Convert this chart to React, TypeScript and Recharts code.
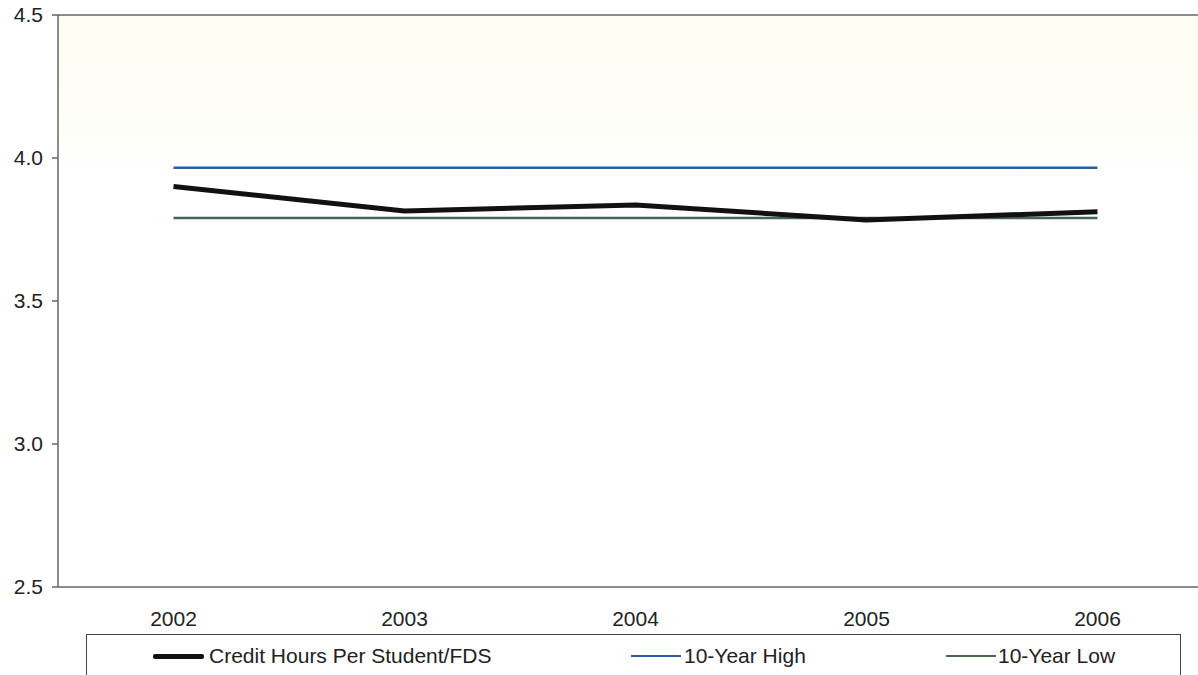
import React from "react";
import { LineChart, Line, XAxis, YAxis, CartesianGrid, ReferenceLine, Legend } from "recharts";

const years = ["2002", "2003", "2004", "2005", "2006"];
const creditHours = [3.9, 3.815, 3.836, 3.783, 3.812];
const tenYearHigh = [3.966, 3.966, 3.966, 3.966, 3.966];
const tenYearLow = [3.79, 3.79, 3.79, 3.79, 3.79];
const yTicks = [2.5, 3.0, 3.5, 4.0, 4.5];
const seriesNames = ["Credit Hours Per Student/FDS", "10-Year High", "10-Year Low"];

const data = years.map((y, i) => ({
  idx: i,
  year: y,
  credit: creditHours[i],
  high: tenYearHigh[i],
  low: tenYearLow[i],
}));

const FONT = "'Liberation Sans', Arial, sans-serif";

const LegendBox = () => {
  const items = [
    { name: seriesNames[0], color: "#111111", width: 5, symLeft: 66, symW: 51, textLeft: 122 },
    { name: seriesNames[1], color: "#2b5ca6", width: 2.5, symLeft: 544, symW: 50, textLeft: 597 },
    { name: seriesNames[2], color: "#4a6650", width: 2.5, symLeft: 859, symW: 50, textLeft: 911 },
  ];
  return (
    <div
      style={{
        position: "relative",
        width: 1095,
        height: 60,
        border: "1.5px solid #444",
        boxSizing: "border-box",
        background: "#fff",
        fontFamily: FONT,
        fontSize: 21,
        color: "#222",
      }}
    >
      {items.map((it) => (
        <React.Fragment key={it.name}>
          <div
            style={{
              position: "absolute",
              left: it.symLeft,
              top: 21 - it.width / 2,
              width: it.symW,
              height: it.width,
              background: it.color,
              borderRadius: it.width > 3 ? 2 : 0,
            }}
          />
          <div style={{ position: "absolute", left: it.textLeft, top: 8, lineHeight: "26px", whiteSpace: "nowrap" }}>
            {it.name}
          </div>
        </React.Fragment>
      ))}
    </div>
  );
};

export default function App() {
  return (
    <div style={{ position: "absolute", left: 0, top: 0, width: 1198, height: 675, overflow: "hidden", background: "#fff" }}>
      <LineChart
        width={1230}
        height={700}
        data={data}
        margin={{ top: 15, right: 17, bottom: 72, left: 0 }}
        style={{ fontFamily: FONT }}
      >
        <defs>
          <linearGradient id="bgGrad" x1="0" y1="0" x2="0" y2="1">
            <stop offset="0%" stopColor="#fdfcf1" />
            <stop offset="20%" stopColor="#fefef8" />
            <stop offset="28%" stopColor="#ffffff" />
            <stop offset="100%" stopColor="#ffffff" />
          </linearGradient>
        </defs>
        <CartesianGrid xAxisId="a" horizontal={false} vertical={false} fill="url(#bgGrad)" stroke="none" />
        <XAxis
          xAxisId="a"
          dataKey="idx"
          type="number"
          domain={[-0.5, 4.5]}
          ticks={[-0.5, 0.5, 1.5, 2.5, 3.5, 4.5]}
          tick={false}
          tickSize={5}
          height={1}
          axisLine={{ stroke: "#666", strokeWidth: 1.5 }}
          tickLine={{ stroke: "#666", strokeWidth: 1.5 }}
        />
        <XAxis
          xAxisId="b"
          dataKey="idx"
          type="number"
          domain={[-0.5, 4.5]}
          ticks={[0, 1, 2, 3, 4]}
          tickFormatter={(v: number) => years[v]}
          axisLine={false}
          tickLine={false}
          tickSize={0}
          tickMargin={23}
          height={40}
          tick={{ fill: "#222", fontSize: 21, fontFamily: FONT }}
        />
        <YAxis
          type="number"
          domain={[2.5, 4.5]}
          ticks={yTicks}
          tickFormatter={(v: number) => v.toFixed(1)}
          width={58}
          tickSize={6}
          tickMargin={9}
          interval={0}
          axisLine={{ stroke: "#666", strokeWidth: 1.5 }}
          tickLine={{ stroke: "#666", strokeWidth: 1.5 }}
          tick={{ fill: "#222", fontSize: 21, fontFamily: FONT }}
        />
        <ReferenceLine y={4.5} xAxisId="a" stroke="#666" strokeWidth={1.5} />
        <Line
          xAxisId="a"
          dataKey="high"
          name={seriesNames[1]}
          stroke="#2b5ca6"
          strokeWidth={2.5}
          dot={false}
          isAnimationActive={false}
        />
        <Line
          xAxisId="a"
          dataKey="low"
          name={seriesNames[2]}
          stroke="#4a6650"
          strokeWidth={2.5}
          dot={false}
          isAnimationActive={false}
        />
        <Line
          xAxisId="a"
          dataKey="credit"
          name={seriesNames[0]}
          stroke="#111111"
          strokeWidth={5}
          dot={false}
          strokeLinejoin="round"
          isAnimationActive={false}
        />
        <Legend
          layout="horizontal"
          verticalAlign="middle"
          align="center"
          content={() => <LegendBox />}
          wrapperStyle={{ position: "absolute", left: 86, top: 634, width: 1095 }}
        />
      </LineChart>
    </div>
  );
}
